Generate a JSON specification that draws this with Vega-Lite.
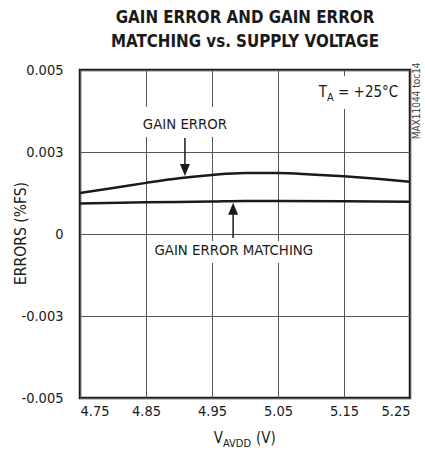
{
  "$schema": "https://vega.github.io/schema/vega-lite/v6.json",
  "width": 330,
  "height": 328,
  "autosize": {"type": "none"},
  "padding": {"left": 80, "top": 70, "right": 15, "bottom": 61},
  "background": "white",
  "title": {
    "text": ["GAIN ERROR AND GAIN ERROR", "MATCHING vs. SUPPLY VOLTAGE"],
    "font": "DejaVu Sans Condensed, Liberation Sans",
    "fontWeight": "bold",
    "fontSize": 16.8,
    "lineHeight": 24,
    "color": "#1a1a1a",
    "anchor": "middle",
    "offset": 11
  },
  "config": {
    "view": {"stroke": "#1a1a1a", "strokeWidth": 2.5},
    "font": "DejaVu Sans Condensed, Liberation Sans",
    "axis": {
      "labelFont": "DejaVu Sans Condensed, Liberation Sans",
      "titleFont": "DejaVu Sans Condensed, Liberation Sans",
      "labelColor": "#1a1a1a",
      "titleColor": "#1a1a1a",
      "labelFontSize": 14.5,
      "titleFontSize": 15.5,
      "titleFontWeight": "normal",
      "ticks": false,
      "domain": false,
      "gridColor": "#555555",
      "gridWidth": 1,
      "gridOpacity": 1
    }
  },
  "datasets": {
    "curves": [
      {"v": 4.75, "err": 0.00150, "series": "GAIN ERROR"},
      {"v": 4.80, "err": 0.00168, "series": "GAIN ERROR"},
      {"v": 4.85, "err": 0.00187, "series": "GAIN ERROR"},
      {"v": 4.90, "err": 0.00204, "series": "GAIN ERROR"},
      {"v": 4.95, "err": 0.00216, "series": "GAIN ERROR"},
      {"v": 5.00, "err": 0.00223, "series": "GAIN ERROR"},
      {"v": 5.05, "err": 0.00223, "series": "GAIN ERROR"},
      {"v": 5.10, "err": 0.00218, "series": "GAIN ERROR"},
      {"v": 5.15, "err": 0.00211, "series": "GAIN ERROR"},
      {"v": 5.20, "err": 0.00202, "series": "GAIN ERROR"},
      {"v": 5.25, "err": 0.00191, "series": "GAIN ERROR"},
      {"v": 4.75, "err": 0.00112, "series": "GAIN ERROR MATCHING"},
      {"v": 4.85, "err": 0.00116, "series": "GAIN ERROR MATCHING"},
      {"v": 4.95, "err": 0.00119, "series": "GAIN ERROR MATCHING"},
      {"v": 5.00, "err": 0.00121, "series": "GAIN ERROR MATCHING"},
      {"v": 5.05, "err": 0.00121, "series": "GAIN ERROR MATCHING"},
      {"v": 5.15, "err": 0.00120, "series": "GAIN ERROR MATCHING"},
      {"v": 5.25, "err": 0.00118, "series": "GAIN ERROR MATCHING"}
    ],
    "gaps": [
      {"v": 4.8424, "v2": 4.9758, "err": 0.00465, "err2": 0.00355},
      {"v": 4.856, "v2": 5.1106, "err": -0.00026, "err2": -0.00106},
      {"v": 5.106, "v2": 5.2318, "err": 0.00578, "err2": 0.00457}
    ],
    "labels": [
      {"v": 4.909, "err": 0.0040, "text": "GAIN ERROR"},
      {"v": 4.983, "err": -0.00062, "text": "GAIN ERROR MATCHING"}
    ],
    "rightparts": [
      {"v": 5.1242, "err": 0.0052, "text": "T"},
      {"v": 4.9667, "err": -0.00746, "text": "V"}
    ],
    "subparts": [
      {"v": 5.1242, "err": 0.00497, "text": "A"},
      {"v": 4.9667, "err": -0.0077, "text": "AVDD"}
    ],
    "leftparts": [
      {"v": 5.1409, "err": 0.0052, "text": "= +25°C"},
      {"v": 5.0167, "err": -0.00746, "text": "(V)"}
    ],
    "arrows": [
      {"v": 4.909, "err": 0.00351, "err2": 0.0025},
      {"v": 4.982, "err": -0.00015, "err2": 0.0008}
    ],
    "heads_down": [{"v": 4.909, "err": 0.00212}],
    "heads_up": [{"v": 4.982, "err": 0.00114}],
    "code": [{"v": 5.2606, "err": 0.00487, "text": "MAX11044 toc14"}]
  },
  "layer": [
    {
      "data": {"name": "gaps"},
      "mark": {"type": "rect", "color": "white", "opacity": 1},
      "encoding": {
        "x": {"field": "v", "type": "quantitative"},
        "x2": {"field": "v2"},
        "y": {"field": "err", "type": "quantitative"},
        "y2": {"field": "err2"}
      }
    },
    {
      "data": {"name": "curves"},
      "mark": {"type": "line", "color": "#1a1a1a", "strokeWidth": 2.5, "interpolate": "monotone", "clip": false},
      "encoding": {
        "x": {
          "field": "v", "type": "quantitative",
          "scale": {"domain": [4.75, 5.25], "nice": false, "zero": false},
          "axis": {
            "values": [4.75, 4.85, 4.95, 5.05, 5.15, 5.25],
            "format": ".2f",
            "labelPadding": 6,
            "grid": true,
            "title": null
          }
        },
        "y": {
          "field": "err", "type": "quantitative",
          "scale": {"domain": [-0.006, 0.006], "nice": false, "zero": false},
          "axis": {
            "values": [-0.006, -0.003, 0, 0.003, 0.006],
            "labelExpr": "datum.value > 0.0045 ? '0.005' : datum.value > 0.0015 ? '0.003' : datum.value > -0.0015 ? '0' : datum.value > -0.0045 ? '-0.003' : '-0.005'",
            "labelPadding": 17,
            "grid": true,
            "title": "ERRORS (%FS)",
            "titleAngle": -90,
            "titleX": -60,
            "titleY": 163,
            "titleAlign": "center",
            "titleBaseline": "middle"
          }
        },
        "detail": {"field": "series", "type": "nominal"}
      }
    },
    {
      "data": {"name": "labels"},
      "mark": {"type": "text", "fontSize": 14.8, "align": "center", "baseline": "middle", "color": "#1a1a1a", "clip": false},
      "encoding": {
        "x": {"field": "v", "type": "quantitative"},
        "y": {"field": "err", "type": "quantitative"},
        "text": {"field": "text"}
      }
    },
    {
      "data": {"name": "rightparts"},
      "mark": {"type": "text", "fontSize": 15, "align": "right", "baseline": "middle", "color": "#1a1a1a", "clip": false},
      "encoding": {
        "x": {"field": "v", "type": "quantitative"},
        "y": {"field": "err", "type": "quantitative"},
        "text": {"field": "text"}
      }
    },
    {
      "data": {"name": "subparts"},
      "mark": {"type": "text", "fontSize": 11, "align": "left", "baseline": "middle", "color": "#1a1a1a", "clip": false},
      "encoding": {
        "x": {"field": "v", "type": "quantitative"},
        "y": {"field": "err", "type": "quantitative"},
        "text": {"field": "text"}
      }
    },
    {
      "data": {"name": "leftparts"},
      "mark": {"type": "text", "fontSize": 15, "align": "left", "baseline": "middle", "color": "#1a1a1a", "clip": false},
      "encoding": {
        "x": {"field": "v", "type": "quantitative"},
        "y": {"field": "err", "type": "quantitative"},
        "text": {"field": "text"}
      }
    },
    {
      "data": {"name": "arrows"},
      "mark": {"type": "rule", "color": "#1a1a1a", "strokeWidth": 1.5},
      "encoding": {
        "x": {"field": "v", "type": "quantitative"},
        "y": {"field": "err", "type": "quantitative"},
        "y2": {"field": "err2"}
      }
    },
    {
      "data": {"name": "heads_down"},
      "mark": {"type": "point", "filled": true, "opacity": 1, "color": "#1a1a1a", "size": 144, "shape": "M-0.83,-2L0.83,-2L0,0Z"},
      "encoding": {
        "x": {"field": "v", "type": "quantitative"},
        "y": {"field": "err", "type": "quantitative"}
      }
    },
    {
      "data": {"name": "heads_up"},
      "mark": {"type": "point", "filled": true, "opacity": 1, "color": "#1a1a1a", "size": 144, "shape": "M-0.83,2L0.83,2L0,0Z"},
      "encoding": {
        "x": {"field": "v", "type": "quantitative"},
        "y": {"field": "err", "type": "quantitative"}
      }
    },
    {
      "data": {"name": "code"},
      "mark": {"type": "text", "fontSize": 10, "angle": 270, "align": "center", "baseline": "middle", "color": "#444444", "clip": false},
      "encoding": {
        "x": {"field": "v", "type": "quantitative"},
        "y": {"field": "err", "type": "quantitative"},
        "text": {"field": "text"}
      }
    }
  ]
}
